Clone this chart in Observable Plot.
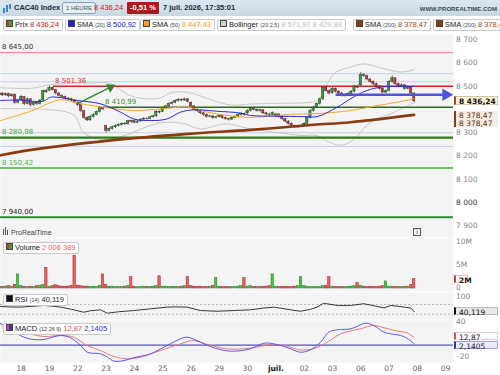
<!DOCTYPE html>
<html><head><meta charset="utf-8">
<script src="https://cdn.jsdelivr.net/npm/d3@7"></script>
<script src="https://cdn.jsdelivr.net/npm/@observablehq/plot@0.6"></script>
<style>
html,body{margin:0;padding:0;}
body{width:500px;height:375px;overflow:hidden;background:#fff;position:relative;font-family:"Liberation Sans",Arial,sans-serif;}
.a{position:absolute;white-space:nowrap;}
#hdr{left:0;top:0;width:500px;height:16px;background:linear-gradient(#dbe7ef,#c8d9e4);}
.lg{height:10px;line-height:10px;border:1px solid #c9c9c9;border-radius:2px;background:rgba(252,252,252,0.95);font-size:7.5px;color:#222;padding:0 3px 0 2px;z-index:3;}
.sw{display:inline-block;width:5px;height:5px;border:1px solid #444;vertical-align:0px;margin-right:2px;}
.sm{font-size:5.5px;color:#444;}
.mk{left:454px;width:44px;height:8px;line-height:8px;font:bold 7.5px "DejaVu Sans",sans-serif;padding-left:3px;box-sizing:border-box;z-index:5;}
.tl{left:456px;height:9px;line-height:9px;font:7.5px "DejaVu Sans",sans-serif;color:#858585;z-index:6;}
</style></head><body>
<div id="hdr" class="a"></div>
<div class="a" style="left:3px;top:4px;width:9px;height:9px;">
  <span class="a" style="left:0;top:4px;width:1.5px;height:5px;background:#3f86c9"></span>
  <span class="a" style="left:3px;top:1px;width:1.5px;height:7px;background:#3f86c9"></span>
  <span class="a" style="left:6px;top:0px;width:1.5px;height:5px;background:#3f86c9"></span>
</div>
<div class="a" style="left:14px;top:3px;font-size:7.5px;font-weight:bold;color:#1d2a36;line-height:10px">CAC40 Index</div>
<div class="a" style="left:62px;top:2px;height:10px;line-height:10px;padding:0 3px;border:1px solid #8fa4b3;border-radius:2px;font-size:6px;color:#4d6070;background:#e3edf3">1 HEURE</div>
<div class="a" style="left:94px;top:3px;font-size:7.5px;color:#c01818;line-height:10px">8 436,24</div>
<div class="a" style="left:127px;top:2px;height:12px;line-height:12px;padding:0 3px;background:#a81c1c;color:#fff;font-size:7.5px;font-weight:bold;border-radius:1px">-0,51 %</div>
<div class="a" style="left:163px;top:3px;font-size:7.5px;font-weight:bold;color:#1d2a36;line-height:10px">7 juil. 2026, 17:35:01</div>
<div class="a" style="right:3px;top:5px;font-size:6px;font-weight:bold;color:#3b4d5c;line-height:8px">WWW.PROREALTIME.COM</div>

<div class="a lg" style="left:3px;top:19px"><span class="sw" style="background:linear-gradient(90deg,#d33 50%,#3a3 50%)"></span>Prix <span style="color:#d02020">8 436,24</span></div>
<div class="a lg" style="left:65px;top:19px"><span class="sw" style="background:#1f1fe0"></span>SMA <span class="sm">(20)</span> <span style="color:#2020e0">8 500,92</span></div>
<div class="a lg" style="left:140px;top:19px"><span class="sw" style="background:#f5a020"></span>SMA <span class="sm">(50)</span> <span style="color:#f0a020">8 447,43</span></div>
<div class="a lg" style="left:217px;top:19px"><span class="sw" style="background:#d0d0d0"></span>Bollinger <span class="sm">(20 2,5)</span> <span style="color:#c4c4c4">8 571,97 8 429,88</span></div>
<div class="a lg" style="left:353px;top:19px"><span class="sw" style="background:#8a3c10"></span>SMA <span class="sm">(200)</span> <span style="color:#9a4a10">8 378,47</span></div>
<div class="a lg" style="left:433px;top:19px"><span class="sw" style="background:#8a3c10"></span>SMA <span class="sm">(200)</span> <span style="color:#9a4a10">8 378,47</span></div>

<script>
// ---------- DATA ----------
const dayLabels   = ["18","19","22","23","24","25","26","29","30","juil.","02","03","06","07","08","09"];
const dayStartBar = [7,16,25,34,43,52,61,70,79,88,97,106,115,124,133,142];

const open = [8465,8470,8462,8468,8458,8465,8430,
 8442,8455,8425,8445,8420,8430,8425,8440,8480,
 8482,8495,8485,8470,8460,8455,8448,8445,8440,
 8430,8420,8395,8365,8355,8370,8378,8390,8408,
 8330,8310,8318,8325,8330,8335,8340,8338,8352,
 8352,8345,8350,8358,8362,8360,8368,8372,8392,
 8392,8405,8415,8425,8430,8438,8442,8440,8445,
 8430,8415,8400,8395,8385,8378,8370,8372,8365,
 8370,8375,8365,8360,8358,8365,8370,8378,8382,
 8385,8395,8405,8400,8395,8398,8385,8380,8378,
 8372,8380,8370,8360,8350,8340,8330,8325,8328,
 8332,8340,8365,8395,8410,8425,8445,8495,8480,
 8472,8490,8478,8470,8460,8462,8468,8478,8500,
 8505,8550,8545,8530,8520,8510,8500,8490,8474,
 8480,8520,8535,8510,8500,8505,8490,8495,8470];
const high = [8476,8474,8472,8471,8469,8468,8446,
 8462,8458,8450,8448,8436,8434,8444,8485,8488,
 8503,8499,8488,8474,8465,8459,8453,8450,8444,
 8436,8424,8398,8370,8375,8384,8395,8412,8411,
 8334,8324,8330,8336,8340,8345,8346,8356,8356,
 8358,8355,8362,8367,8366,8372,8377,8396,8396,
 8410,8420,8430,8436,8443,8448,8447,8450,8448,
 8434,8418,8405,8398,8390,8382,8377,8376,8373,
 8380,8378,8369,8364,8370,8375,8383,8387,8386,
 8400,8410,8409,8404,8403,8401,8389,8385,8391,
 8385,8384,8374,8364,8354,8344,8335,8333,8336,
 8346,8370,8400,8415,8430,8450,8500,8502,8485,
 8496,8494,8482,8475,8468,8473,8483,8505,8506,
 8560,8556,8548,8534,8524,8514,8504,8494,8485,
 8526,8545,8538,8514,8512,8509,8502,8498,8473];
const low = [8460,8457,8458,8452,8454,8424,8426,
 8438,8418,8421,8412,8415,8418,8421,8436,8470,
 8478,8480,8464,8455,8449,8442,8438,8434,8426,
 8414,8388,8358,8350,8351,8365,8374,8386,8396,
 8300,8305,8313,8320,8326,8330,8333,8334,8343,
 8340,8341,8346,8354,8355,8356,8364,8368,8383,
 8388,8400,8411,8420,8426,8433,8435,8436,8430,
 8410,8395,8389,8380,8372,8364,8366,8360,8361,
 8365,8360,8355,8352,8354,8361,8366,8373,8373,
 8380,8391,8395,8390,8390,8380,8374,8373,8374,
 8366,8365,8355,8345,8335,8325,8320,8320,8323,
 8327,8336,8361,8390,8405,8420,8440,8475,8464,
 8466,8472,8464,8455,8455,8457,8463,8473,8490,
 8500,8538,8524,8514,8504,8494,8484,8470,8470,
 8476,8515,8505,8494,8495,8484,8485,8464,8430];
const close = [8470,8462,8468,8458,8465,8430,8440,
 8455,8425,8445,8420,8430,8425,8440,8480,8475,
 8495,8485,8470,8460,8455,8448,8445,8440,8432,
 8420,8395,8365,8355,8370,8378,8390,8408,8402,
 8310,8318,8325,8330,8335,8340,8338,8352,8348,
 8345,8350,8358,8362,8360,8368,8372,8392,8388,
 8405,8415,8425,8430,8438,8442,8440,8445,8435,
 8415,8400,8395,8385,8378,8370,8372,8365,8368,
 8375,8365,8360,8358,8365,8370,8378,8382,8378,
 8395,8405,8400,8395,8398,8385,8380,8378,8386,
 8380,8370,8360,8350,8340,8330,8325,8328,8330,
 8340,8365,8395,8410,8425,8445,8495,8480,8470,
 8490,8478,8470,8460,8462,8468,8478,8500,8495,
 8550,8545,8530,8520,8510,8500,8490,8474,8480,
 8520,8535,8510,8500,8505,8490,8495,8470,8436.24];
// volume in millions
const volume = [0.4,0.3,0.4,0.5,0.4,0.8,3.0,
 0.5,0.4,0.3,0.4,0.3,0.5,0.6,0.7,4.4,
 0.4,0.5,0.7,0.5,0.4,0.3,0.4,0.6,7.0,
 0.6,0.5,0.4,0.4,0.3,0.4,0.3,0.6,3.0,
 0.7,0.4,0.4,0.3,0.3,0.3,0.4,0.5,2.4,
 0.4,0.3,0.3,0.4,0.3,0.3,0.4,0.5,2.6,
 0.4,0.4,0.3,0.3,0.3,0.3,0.4,0.5,2.4,
 0.5,0.4,0.3,0.4,0.3,0.3,0.4,0.6,2.2,
 0.4,0.3,0.3,0.3,0.3,0.3,0.4,0.5,2.2,
 0.4,0.5,0.3,0.3,0.3,0.3,0.4,0.5,3.0,
 0.4,0.3,0.3,0.3,0.3,0.3,0.4,0.5,2.4,
 0.5,0.4,0.3,0.3,0.3,0.3,0.5,0.6,2.4,
 0.4,0.3,0.3,0.3,0.3,0.3,0.4,0.5,1.2,
 0.6,0.4,0.3,0.3,0.3,0.3,0.4,0.5,1.5,
 0.4,0.4,0.3,0.3,0.3,0.3,0.4,0.7,2.006389];

// indicator readings: [bar, value]
const sma20 = [[0.4,8440],[6,8442],[14,8437],[16.3,8454],[18.4,8454],[24.8,8440],[32.2,8426],[38.6,8390],[42.8,8361],[48.1,8354],[53.4,8361],[57.7,8390],[61.9,8400],[69.3,8394],[76.8,8386],[80,8376],[88,8373],[96.9,8371],[101.1,8371],[107.5,8411],[111.7,8447],[117,8483],[121.3,8497],[124.5,8500],[130.8,8500],[132,8500.92]];
const sma50 = [[0.4,8354],[10,8394],[19.5,8443],[25.9,8426],[33.3,8411],[42.8,8397],[51.3,8404],[59.8,8411],[66.2,8390],[72.5,8376],[80,8368],[92.7,8380],[103.3,8386],[111.7,8397],[120.2,8418],[126.6,8433],[132,8447.43]];
const sma200 = [[0.4,8205],[8,8224],[35.4,8269],[60,8297],[80,8314],[100,8336],[111.7,8347],[132,8378.47]];
const bollUpper = [[0.4,8495],[10,8492],[15,8505],[20,8512],[30,8515],[35,8514],[41,8465],[45,8450],[51,8450],[55,8475],[61,8472],[68,8440],[74,8420],[80,8425],[90,8428],[100,8435],[102,8450],[104.3,8511],[107,8560],[111.7,8583],[116,8597],[122.3,8576],[128,8562],[132,8571.97]];
const bollLower = [[0.4,8405],[10,8405],[16,8400],[20,8395],[24,8375],[27,8300],[33,8272],[36,8275],[42,8300],[48,8333],[53,8347],[59,8340],[64,8318],[72,8340],[80,8318],[90,8300],[96,8290],[101,8290],[104,8268],[107.5,8250],[110,8252],[113,8275],[117,8335],[120,8360],[124.5,8383],[128,8405],[132,8429.88]];
const rsi = [[0.4,62],[3,60],[6.8,59],[10,62],[14.2,66],[17,63],[19.5,59],[23,50],[26.9,38],[29,44],[32.2,48],[34.4,34],[38,40],[42.8,45],[48.1,52],[53.4,59],[56,60],[59.8,59],[64,45],[69.3,42],[74.6,45],[79.9,48],[84,55],[87.3,59],[92.7,48],[95.8,42],[99,50],[101.1,59],[103.2,75],[107.5,66],[111.7,66],[116,73],[119,65],[122.4,56],[124.6,66],[128.9,59],[131,55],[132,40.119]];
const macd = [[0.4,38],[4,26],[7.8,14],[11,9.8],[14.2,9.8],[19.5,16.8],[22.7,12.7],[25.9,-0.7],[28,-12.4],[32.2,-15.3],[34.4,-21],[36.5,-28],[39.7,-27],[42.8,-22],[48.1,-15.3],[53.4,-0.7],[57.7,11],[59.8,13.8],[64,5],[68.3,-4.8],[73.6,-10.6],[79.9,-6.5],[84.2,3.4],[88.4,1],[92.7,-6.5],[95.8,-12.4],[99,-8.3],[102.2,5],[104.8,22.6],[107.5,26.7],[111.7,28.4],[113.8,32.5],[116.4,38.3],[119.1,34.3],[122.4,22.6],[124.5,19.7],[128.7,15],[132,2.1405]];
const signal = [[0.4,37],[4,30],[7.8,22.6],[14.2,15],[19.5,16.8],[23.7,13.8],[28,-0.7],[32.2,-9.5],[36.5,-20],[40.8,-24],[45,-21],[51.3,-9.5],[57.7,2.2],[61.9,8],[66.2,1],[72.5,-6.5],[79.9,-5.4],[86.3,1],[90.5,-0.7],[95.8,-8.3],[100,-6.5],[104.3,5],[108.6,19.7],[114.9,28.4],[119.1,34.3],[122.4,30.3],[126.6,24.5],[129.8,21],[132,12.87]];

const priceTicks = [7900,8000,8100,8200,8300,8500,8600,8700];
const lavenderLevels = [8555,8520,8302,8243];
const levelValue = [8645,8501.36,8410.99,8280.98,8150.42,7940];
const levelFromBar = [0.4,17.3,33.2,0.4,0.4,0.4];
const greenArrow = {x1:24.8, y1:8426, x2:35.4, y2:8497};
const blueArrow = {x1:107, x2:142.1, y:8464.4};
const volumeTicks = [0,5,10], rsiTicks = [100], macdTicks = [40,-20];
const volumeTickText = ["0","5M","10M"];
const lastPrice = 8436.24, lastSma200 = 8378.47, lastVolume = 2.006389, lastRsi = 40.119, lastMacd = 2.1405, lastSignal = 12.87;

// ---------- CHART ----------
const loc = d3.formatLocale({decimal:",", thousands:"\u00a0", grouping:[3], currency:["",""], minus:"\u2013"});
const fInt = loc.format(",d"), f2 = loc.format(",.2f");
const XD = [0.416, 144.5];
const BG = "#f4f4f4";
const FONT = "DejaVu Sans, Verdana, sans-serif";
const bars = close.map((c,i)=>({i, o:open[i], h:high[i], l:low[i], c, v:volume[i], up:c>=open[i]}));
const base = {width:500, marginLeft:0, marginRight:47, marginTop:0, marginBottom:0,
  style:{fontFamily:FONT, fontSize:"7.5px", background:"transparent", color:"#8a8a8a", overflow:"visible"}};
const px = d=>d[0], py = d=>d[1];

function place(el, top){ const d=document.createElement("div"); d.className="a"; d.style.left="0px"; d.style.top=top+"px"; d.style.lineHeight="0"; d.appendChild(el); document.body.appendChild(d); return d; }
function box(top, html, cls, css){ const d=document.createElement("div"); d.className="a "+cls; d.style.top=top+"px"; d.style.cssText+=css; d.innerHTML=html; document.body.appendChild(d); return d; }
// right-hand scale labels, positioned through each panel's own y scale
function scaleLabels(plot, top, ticks, texts){ const s = plot.scale("y"); ticks.forEach((t,k)=>box(Math.round(top + s.apply(t) - 4.5), texts[k], "tl", "")); }

const levelStyle = [
  {stroke:"#ef7b7b", w:1, fill:"#333"},
  {stroke:"#e41d1d", w:1.6, fill:"#e03030"},
  {stroke:"#2c6b1f", w:1.5, fill:"#3d8a2b"},
  {stroke:"#2f7a1e", w:2.4, fill:"#4aa83e"},
  {stroke:"#3dba3d", w:1.5, fill:"#3fb83f"},
  {stroke:"#2c8a2c", w:2, fill:"#222"}];

const levelMarks = levelValue.flatMap((v,k)=>[
  Plot.ruleY([v], {x1:levelFromBar[k], x2:XD[1], stroke:levelStyle[k].stroke, strokeWidth:levelStyle[k].w}),
  Plot.text([v], {x:levelFromBar[k], y:d=>d, text:d=>f2(d), dy:-5.5, dx:1.5, textAnchor:"start", fill:levelStyle[k].fill, fontSize:7})
]);

const main = Plot.plot({...base, height:203,
  x:{domain:XD, axis:null},
  y:{domain:[7852.8,8722.9], axis:null},
  marks:[
    Plot.frame({fill:BG, stroke:"none"}),
    Plot.ruleY(lavenderLevels, {stroke:"#c6cff4", strokeWidth:1}),
    Plot.line(bollUpper, {x:px, y:py, stroke:"#c2c2c2", strokeWidth:0.9, curve:"catmull-rom"}),
    Plot.line(bollLower, {x:px, y:py, stroke:"#c2c2c2", strokeWidth:0.9, curve:"catmull-rom"}),
    ...levelMarks,
    Plot.ruleX(bars, {x:"i", y1:"l", y2:"h", stroke:"#333", strokeWidth:0.7}),
    Plot.rect(bars, {x1:d=>d.i-0.36, x2:d=>d.i+0.36, y1:"o", y2:"c", fill:d=>d.up?"#2fa52f":"#d83434", stroke:"#2a2a2a", strokeWidth:0.45}),
    Plot.line(sma200, {x:px, y:py, stroke:"#8a3c10", strokeWidth:2.6, curve:"catmull-rom"}),
    Plot.line(sma50, {x:px, y:py, stroke:"#f5a623", strokeWidth:1, curve:"catmull-rom"}),
    Plot.line(sma20, {x:px, y:py, stroke:"#2a2ae6", strokeWidth:1, curve:"catmull-rom"}),
    Plot.link([greenArrow], {x1:"x1", y1:"y1", x2:"x2", y2:"y2", stroke:"#2a8a2a", strokeWidth:1.4}),
    Plot.dot([greenArrow], {x:"x2", y:"y2", symbol:"triangle", rotate:63, r:3.6, fill:"#2a8a2a", stroke:"none"}),
    Plot.link([blueArrow], {x1:"x1", x2:"x2", y1:"y", y2:"y", stroke:"#5252e2", strokeWidth:2.6}),
    Plot.dot([blueArrow], {x:"x2", y:"y", symbol:"triangle", rotate:90, r:4.6, fill:"#5252e2", stroke:"none"})
  ]});
place(main, 34);
scaleLabels(main, 34, priceTicks, priceTicks.map(fInt));

// ProRealTime logo & info box inside main panel
box(227, '<span style="display:inline-block;width:1px;height:6px;background:#555;margin-right:1px"></span><span style="display:inline-block;width:1px;height:8px;background:#555;margin-right:1px"></span><span style="display:inline-block;width:1px;height:5px;background:#555;margin-right:3px"></span>ProRealTime', "", "left:3px;font-size:7px;color:#444;line-height:9px;");
box(228, 'i', "", "left:413px;width:6px;height:6px;border:1px solid #555;font-size:6px;line-height:6px;text-align:center;color:#333;font-family:DejaVu Sans,sans-serif;");

const yMain = v => 34 + main.scale("y").apply(v);
box(yMain(lastPrice)-4.5, f2(lastPrice), "mk", "height:9px;line-height:9px;background:#fdf6dc;color:#111;border:1px solid #cfc6a8;border-left:2px solid #b63a1a;");
box(yMain(lastSma200)-3, f2(lastSma200), "mk", "background:#f7ede4;color:#5a3010;border-left:2px solid #8a3c10;font-weight:normal;");
box(yMain(lastSma200)+5, f2(lastSma200), "mk", "background:#f7ede4;color:#5a3010;border-left:2px solid #8a3c10;font-weight:normal;");

// Volume
const vol = Plot.plot({...base, height:53,
  x:{domain:XD, axis:null}, y:{domain:[-0.64,10.64], axis:null},
  marks:[
    Plot.frame({fill:BG, stroke:"none"}),
    Plot.rect(bars, {x1:d=>d.i-0.38, x2:d=>d.i+0.38, y1:0, y2:d=>d.v, fill:d=>d.up?"#46c746":"#e86060", stroke:d=>d.up?"#1e7d1e":"#a32020", strokeWidth:0.5})
  ]});
place(vol, 238);
box(242, '<span class="sw" style="background:linear-gradient(90deg,#d33 50%,#3a3 50%)"></span>Volume <span style="color:#e06a6a">2 006 389</span>', "lg", "left:3px;");
box(238 + vol.scale("y").apply(lastVolume) - 4, "2M", "mk", "background:#fff;color:#222;border:1px solid #f0c0c0;border-left:2px solid #d83434;width:14px;");
scaleLabels(vol, 238, volumeTicks, volumeTickText);

// RSI
const rsiP = Plot.plot({...base, height:27,
  x:{domain:XD, axis:null}, y:{domain:[8,119.4], axis:null},
  marks:[
    Plot.frame({fill:BG, stroke:"none"}),
    Plot.ruleY([70,30], {stroke:"#a8a8a8", strokeDasharray:"2,2", strokeWidth:0.8}),
    Plot.line(rsi, {x:px, y:py, stroke:"#222", strokeWidth:0.9})
  ]});
place(rsiP, 292);
scaleLabels(rsiP, 292, rsiTicks, rsiTicks.map(String));
box(294, '<span class="sw" style="background:#111"></span>RSI <span class="sm">(14)</span> 40,119', "lg", "left:3px;");
box(292 + rsiP.scale("y").apply(lastRsi) - 4, "40,119", "mk", "background:#e9e9e9;color:#111;border:1px solid #bbb;border-left:2px solid #111;font-weight:normal;");

// MACD
const macdP = Plot.plot({...base, height:55, marginBottom:13,
  x:{domain:XD, axis:null}, y:{domain:[-30.4,43], axis:null},
  marks:[
    Plot.frame({fill:BG, stroke:"none"}),
    Plot.ruleY([0], {stroke:"#2a2aa8", strokeWidth:1}),
    Plot.line(signal, {x:px, y:py, stroke:"#f07878", strokeWidth:1, curve:"catmull-rom"}),
    Plot.line(macd, {x:px, y:py, stroke:"#5a5af0", strokeWidth:1, curve:"catmull-rom"}),
    Plot.axisX(dayStartBar, {anchor:"bottom", tickSize:0, tickPadding:3, tickFormat:d=>dayLabels[dayStartBar.indexOf(d)], fill:"#666", fontSize:7.5, label:null})
  ]});
place(macdP, 320);
scaleLabels(macdP, 320, macdTicks, macdTicks.map(loc.format("d")));
d3.select(macdP).selectAll("text").filter(function(){return this.textContent==="juil.";}).attr("font-weight","bold").attr("fill","#111");
box(323, '<span class="sw" style="background:linear-gradient(90deg,#e05050 50%,#3030d0 50%)"></span>MACD <span class="sm">(12 26 9)</span> <span style="color:#e05050">12,87</span> <span style="color:#3030d0">2,1405</span>', "lg", "left:3px;");
const yM = v => 320 + macdP.scale("y").apply(v);
box(yM(lastSignal) - 5.5, "12,87", "mk", "background:#fff;color:#222;border:1px solid #f0c8c8;border-left:2px solid #e05050;font-weight:normal;");
box(yM(lastMacd) - 2.5, "2,1405", "mk", "background:#ecebff;color:#222;border:1px solid #9a9af0;border-left:2px solid #2a2ad0;font-weight:normal;");
// the 8 000 label is drawn darker in the reference
document.querySelectorAll(".tl").forEach(e=>{ if(e.textContent===fInt(8000)) e.style.color="#333"; });
</script>
</body></html>
